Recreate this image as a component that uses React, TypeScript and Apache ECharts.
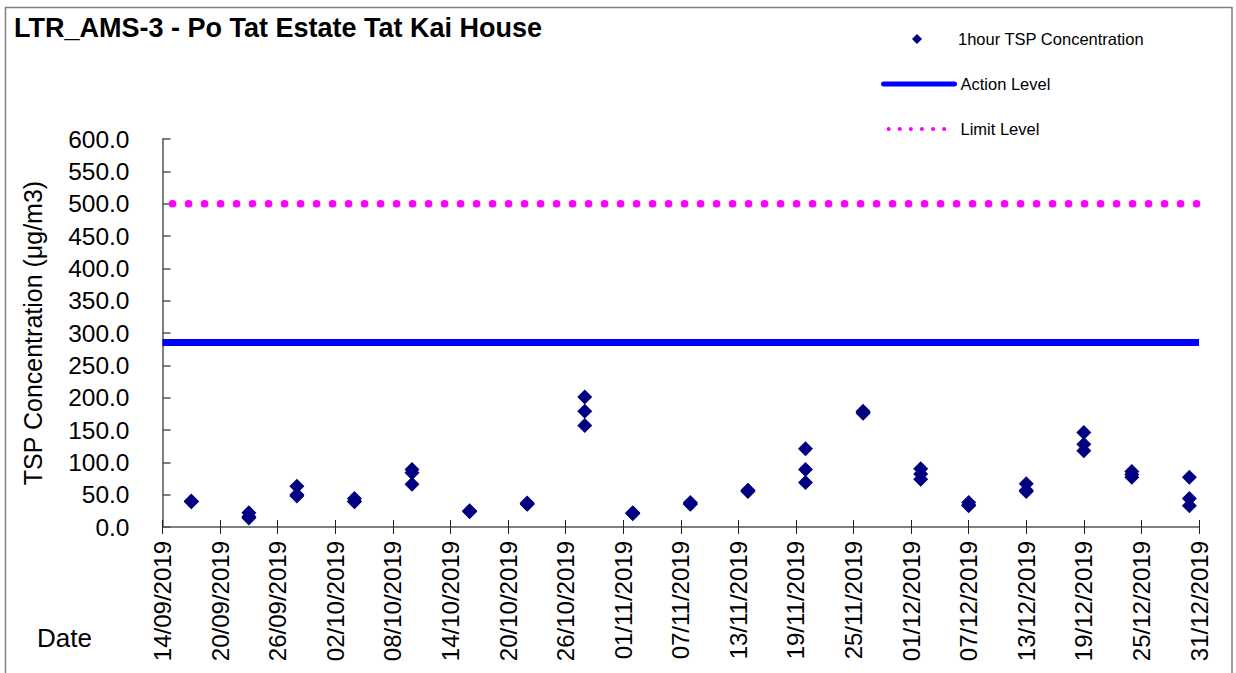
import React, { useEffect, useRef } from "react";
import * as echarts from "echarts";

const chartTitle = "LTR_AMS-3 - Po Tat Estate Tat Kai House";
const yAxisName = "TSP Concentration (\u03bcg/m3)";
const xAxisName = "Date";
const scatterName = "1hour TSP Concentration";
const actionName = "Action Level";
const limitName = "Limit Level";

const startDate = "14/09/2019";
const endDate = "31/12/2019";
const tickDays = 6;

const yMin = 0;
const yMax = 600;
const yStep = 50;

const actionLevel = 285.3;
const limitLevel = 500;

const sampleDates = [
  "17/09/2019", "23/09/2019", "28/09/2019", "04/10/2019", "10/10/2019",
  "16/10/2019", "22/10/2019", "28/10/2019", "02/11/2019", "08/11/2019",
  "14/11/2019", "20/11/2019", "26/11/2019", "02/12/2019", "07/12/2019",
  "13/12/2019", "19/12/2019", "24/12/2019", "30/12/2019",
];
const reading1 = [40, 22, 63, 44, 89, 25, 37, 201, 22, 38, 57, 121, 179, 90, 38, 67, 146, 86, 77];
const reading2 = [40, 16, 50, 40, 84, 24, 36, 179, 21, 36, 56, 89, 177, 82, 34, 57, 128, 81, 44];
const reading3 = [39, 14, 48, 39, 66, 24, 35, 157, 21, 35, 55, 69, 176, 74, 33, 55, 118, 77, 33];

const DAY = 86400000;
function parseDate(s: string): number {
  const [d, m, y] = s.split("/").map(Number);
  return Date.UTC(y, m - 1, d);
}
const baseTime = parseDate(startDate);
const dayOffset = (s: string) => Math.round((parseDate(s) - baseTime) / DAY);
const pad = (n: number) => (n < 10 ? "0" + n : "" + n);
function formatDay(v: number): string {
  const dt = new Date(baseTime + Math.round(v) * DAY);
  return pad(dt.getUTCDate()) + "/" + pad(dt.getUTCMonth() + 1) + "/" + dt.getUTCFullYear();
}

export default function App() {
  const ref = useRef<HTMLDivElement>(null);

  useEffect(() => {
    if (!ref.current) return;
    const chart = echarts.init(ref.current, null, { renderer: "svg" });
    const xMax = dayOffset(endDate);
    const font = "'Liberation Sans', Arial, sans-serif";

    const scatterData: number[][] = [];
    sampleDates.forEach((d, i) => {
      const x = dayOffset(d);
      [reading1[i], reading2[i], reading3[i]].forEach((v) => scatterData.push([x, v]));
    });

    const xAxisBase = {
      type: "value",
      min: 0,
      max: xMax,
      interval: tickDays,
      position: "bottom",
      splitLine: { show: false },
    };

    const legendText = { fontFamily: font, fontSize: 16.5, color: "#000" };

    chart.setOption({
      animation: false,
      backgroundColor: "#ffffff",
      textStyle: { fontFamily: font },
      title: {
        text: chartTitle,
        left: 9,
        top: 9,
        textStyle: { fontFamily: font, fontSize: 27, fontWeight: "bold", color: "#000" },
      },
      legend: [
        {
          orient: "vertical",
          left: 912,
          top: 30.5,
          padding: 0,
          itemWidth: 10,
          itemHeight: 10,
          textStyle: { ...legendText, padding: [0, 0, 0, 31] },
          data: [{ name: scatterName, icon: "diamond" }],
        },
        {
          orient: "vertical",
          left: 881,
          top: 75.5,
          padding: 0,
          itemWidth: 71,
          itemHeight: 8,
          itemGap: 28,
          textStyle: { ...legendText, padding: [0, 0, 0, 1] },
          data: [
            { name: actionName, lineStyle: { width: 5, cap: "round" }, itemStyle: { opacity: 0 } },
            {
              name: limitName,
              lineStyle: { width: 4, type: [0.1, 11], cap: "round" },
              itemStyle: { opacity: 0 },
            },
          ],
        },
      ],
      grid: {
        left: 162.5,
        right: 37,
        top: 139,
        bottom: 146,
        containLabel: false,
        outerBoundsMode: "none",
      },
      xAxis: [
        {
          ...xAxisBase,
          axisLine: { show: true, onZero: false, lineStyle: { color: "#555", width: 1.5 } },
          axisTick: { show: true, inside: false, length: 7, lineStyle: { color: "#222", width: 1 } },
          axisLabel: {
            rotate: 90,
            margin: 14,
            fontSize: 24,
            fontFamily: font,
            color: "#000",
            formatter: (v: number) => formatDay(v),
          },
        },
        {
          ...xAxisBase,
          axisLine: { show: false },
          axisTick: { show: true, inside: true, length: 7, lineStyle: { color: "#222", width: 1 } },
          axisLabel: { show: false },
        },
      ],
      yAxis: {
        type: "value",
        min: yMin,
        max: yMax,
        interval: yStep,
        name: yAxisName,
        nameLocation: "middle",
        nameRotate: 90,
        nameGap: 117,
        nameTextStyle: { fontFamily: font, fontSize: 25, color: "#000" },
        splitLine: { show: false },
        axisLine: { show: true, lineStyle: { color: "#555", width: 1.5 } },
        axisTick: { show: true, inside: true, length: 8, lineStyle: { color: "#555", width: 1.5 } },
        axisLabel: {
          margin: 33,
          fontSize: 24.5,
          fontFamily: font,
          color: "#000",
          formatter: (v: number) => v.toFixed(1),
        },
      },
      series: [
        {
          name: limitName,
          type: "line",
          symbol: "none",
          data: [[0, limitLevel], [xMax, limitLevel]],
          lineStyle: { color: "#ff00ff", width: 7.5, type: [0.1, 15.9], cap: "round", dashOffset: 5.5 },
          itemStyle: { color: "#ff00ff" },
          z: 2,
        },
        {
          name: actionName,
          type: "line",
          symbol: "none",
          data: [[0, actionLevel], [xMax, actionLevel]],
          lineStyle: { color: "#0000ff", width: 7 },
          itemStyle: { color: "#0000ff" },
          z: 2,
        },
        {
          name: scatterName,
          type: "scatter",
          symbol: "diamond",
          symbolSize: 15,
          data: scatterData,
          itemStyle: { color: "#000080", opacity: 1 },
          z: 3,
        },
      ],
      graphic: [
        {
          type: "rect",
          shape: { x: 5.5, y: 7.5, width: 1226.5, height: 700 },
          style: { fill: "none", stroke: "#7f7f7f", lineWidth: 1.5 },
          silent: true,
        },
        {
          type: "text",
          left: 37,
          top: 625,
          style: { text: xAxisName, fontFamily: font, fontSize: 26, fill: "#000" },
        },
      ],
    });

    return () => chart.dispose();
  }, []);

  return (
    <div
      ref={ref}
      style={{ position: "fixed", left: 0, top: 0, width: 1236, height: 673, background: "#fff" }}
    />
  );
}
